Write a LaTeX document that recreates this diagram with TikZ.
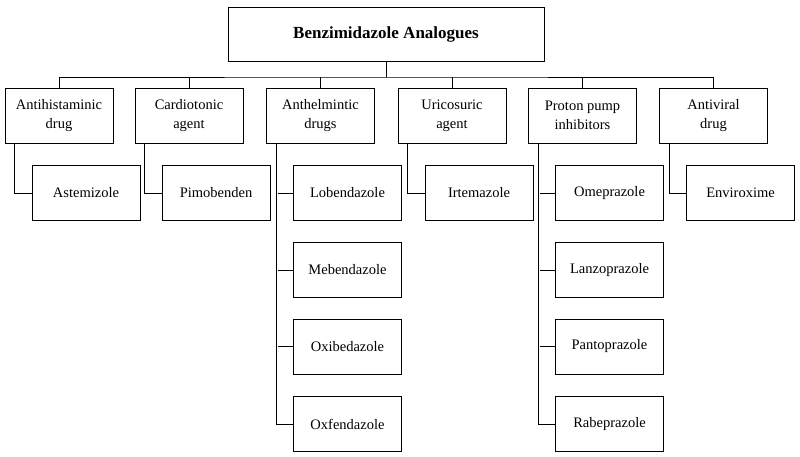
\documentclass[tikz,border=0pt]{standalone}
\usepackage{fontspec}
\setmainfont{Liberation Serif}
\tikzset{
  rootbox/.style={draw, line width=0.9pt, minimum width=316pt, minimum height=54pt, font=\fontsize{17}{20}\selectfont\bfseries},
  catbox/.style={draw, line width=0.9pt, minimum width=108pt, minimum height=55pt, align=center, font=\fontsize{14.5}{19}\selectfont},
  drugbox/.style={draw, line width=0.9pt, minimum width=108pt, minimum height=55pt, font=\fontsize{14.5}{17}\selectfont},
  link/.style={line width=0.9pt}
}
\begin{document}
\begin{tikzpicture}[x=1pt,y=-1pt]
  \useasboundingbox (0,0) rectangle (800,457);
  % root
  \node[rootbox] (root) at (386,34) {Benzimidazole Analogues};
  \coordinate (bus) at (386,77);
  % classes
  \node[catbox] (antihist) at (59,115.5) {Antihistaminic\\drug};
  \node[catbox] (cardio) at (189,115.5) {Cardiotonic\\agent};
  \node[catbox] (anthel) at (320.5,115.5) {Anthelmintic\\drugs};
  \node[catbox] (uric) at (452,115.5) {Uricosuric\\agent};
  \node[catbox] (proton) at (582.5,115.5) {Proton pump\\inhibitors};
  \node[catbox] (antivir) at (713.5,115.5) {Antiviral\\drug};
  % drugs
  \node[drugbox] (astem) at (86,193) {Astemizole};
  \node[drugbox] (pimob) at (216,193) {Pimobenden};
  \node[drugbox] (loben) at (347.5,193) {Lobendazole};
  \node[drugbox] (meben) at (347.5,270) {Mebendazole};
  \node[drugbox] (oxibe) at (347.5,346.5) {Oxibedazole};
  \node[drugbox] (oxfen) at (347.5,424) {Oxfendazole};
  \node[drugbox] (irtem) at (479,193) {Irtemazole};
  \node[drugbox] (omep) at (609.5,193) {Omeprazole};
  \node[drugbox] (lanz) at (609.5,270) {Lanzoprazole};
  \node[drugbox] (pant) at (609.5,346.5) {Pantoprazole};
  \node[drugbox] (rabe) at (609.5,424) {Rabeprazole};
  \node[drugbox] (envir) at (740.5,193) {Enviroxime};
  % root to classes
  \draw[link] (root.south) -- (bus);
  \draw[link] (antihist.north) |- (bus) -| (antivir.north);
  \draw[link] (cardio.north) -- (cardio.north |- bus);
  \draw[link] (anthel.north) -- (anthel.north |- bus);
  \draw[link] (uric.north) -- (uric.north |- bus);
  \draw[link] (proton.north) -- (proton.north |- bus);
  % classes to drugs
  \draw[link] ([xshift=10pt]antihist.south west) |- (astem.west);
  \draw[link] ([xshift=10pt]cardio.south west) |- (pimob.west);
  \draw[link] ([xshift=10pt]anthel.south west) |- (oxfen.west);
  \draw[link] (loben.west) -- ++(-15,0);
  \draw[link] (meben.west) -- ++(-15,0);
  \draw[link] (oxibe.west) -- ++(-15,0);
  \draw[link] ([xshift=10pt]uric.south west) |- (irtem.west);
  \draw[link] ([xshift=10pt]proton.south west) |- (rabe.west);
  \draw[link] (omep.west) -- ++(-15,0);
  \draw[link] (lanz.west) -- ++(-15,0);
  \draw[link] (pant.west) -- ++(-15,0);
  \draw[link] ([xshift=10pt]antivir.south west) |- (envir.west);
\end{tikzpicture}
\end{document}
